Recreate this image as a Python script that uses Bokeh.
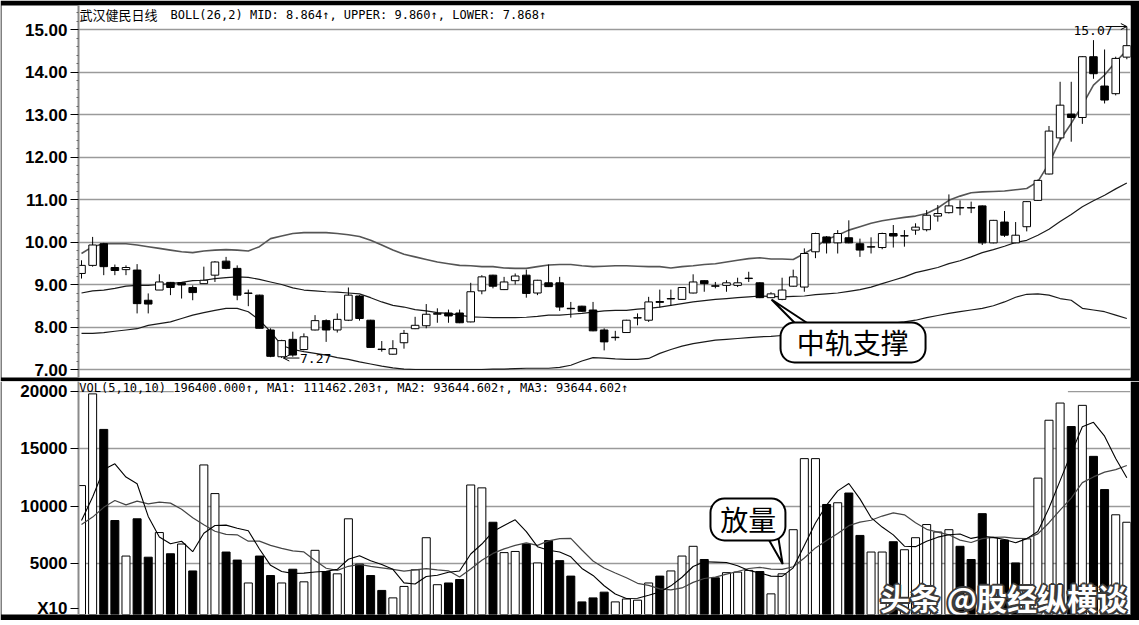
from bokeh.plotting import figure
from bokeh.layouts import column
from bokeh.models import (ColumnDataSource, Range1d, FixedTicker, PrintfTickFormatter,
                          Label, BoxAnnotation, Arrow, OpenHead)
from bokeh.embed import file_html
from bokeh.resources import INLINE

# ---- daily candles (武汉健民) ----
opens = [9.26, 9.45, 9.96, 9.40, 9.35, 9.34, 8.63, 8.87, 9.05, 9.04,
         8.93, 9.02, 9.22, 9.55, 9.38, 8.79, 8.75, 7.93, 7.30, 7.71,
         7.47, 7.93, 8.15, 7.93, 8.16, 8.73, 8.16, 7.48, 7.36, 7.63,
         7.96, 8.03, 8.30, 8.33, 8.33, 8.12, 8.85, 9.22, 8.88, 9.09,
         9.22, 8.80, 9.04, 9.04, 8.44, 8.49, 8.40, 7.93, 7.75, 7.87,
         8.21, 8.16, 8.60, 8.66, 8.65, 8.80, 9.09, 8.97, 8.98, 8.98,
         9.14, 9.04, 8.69, 8.65, 8.96, 8.94, 9.77, 10.12, 9.98, 10.10,
         9.96, 9.88, 9.87, 10.20, 10.14, 10.28, 10.29, 10.61, 10.69, 10.81,
         10.81, 10.85, 9.98, 10.47, 9.98, 10.36, 10.98, 11.60, 12.45, 13.01,
         12.93, 14.36, 13.67, 13.49, 14.35]
highs = [9.57, 10.12, 9.98, 9.47, 9.45, 9.48, 8.79, 9.24, 9.06, 9.05,
         8.98, 9.42, 9.55, 9.65, 9.45, 8.88, 8.76, 7.97, 7.70, 7.89,
         7.85, 8.28, 8.18, 8.32, 8.93, 8.75, 8.17, 7.67, 7.69, 7.93,
         8.24, 8.54, 8.44, 8.41, 8.41, 9.04, 9.22, 9.23, 9.18, 9.26,
         9.35, 9.11, 9.47, 9.18, 8.59, 8.50, 8.59, 7.97, 7.91, 8.17,
         8.32, 8.71, 8.88, 8.88, 8.94, 9.24, 9.10, 9.06, 9.10, 9.16,
         9.30, 9.05, 8.82, 9.16, 9.35, 9.85, 10.22, 10.14, 10.28, 10.51,
         10.08, 10.11, 10.22, 10.40, 10.28, 10.44, 10.75, 10.87, 11.12, 10.98,
         10.95, 10.86, 10.52, 10.73, 10.47, 10.96, 11.47, 12.73, 13.77, 13.77,
         14.37, 14.75, 14.53, 14.36, 15.07]
lows = [9.14, 9.42, 9.22, 9.22, 9.22, 8.32, 8.32, 8.87, 8.75, 8.67,
        8.63, 9.02, 9.06, 9.36, 8.63, 8.49, 7.97, 7.29, 7.27, 7.30,
        7.45, 7.92, 7.65, 7.87, 8.14, 8.15, 7.51, 7.42, 7.35, 7.49,
        7.95, 7.97, 8.10, 8.10, 8.09, 8.11, 8.77, 8.91, 8.87, 9.00,
        8.69, 8.75, 8.94, 8.38, 8.22, 8.36, 7.90, 7.45, 7.68, 7.86,
        8.04, 8.12, 8.46, 8.50, 8.64, 8.79, 8.83, 8.91, 8.83, 8.94,
        9.06, 8.68, 8.68, 8.63, 8.95, 8.83, 9.62, 9.73, 9.73, 9.97,
        9.65, 9.73, 9.83, 9.87, 9.89, 10.17, 10.25, 10.48, 10.67, 10.63,
        10.68, 9.93, 9.97, 10.12, 9.97, 10.25, 10.97, 11.59, 12.40, 12.36,
        12.78, 13.84, 13.26, 13.45, 14.30]
closes = [9.45, 9.93, 9.42, 9.33, 9.40, 8.55, 8.54, 9.06, 8.93, 8.99,
          8.81, 9.10, 9.53, 9.38, 8.75, 8.80, 7.97, 7.31, 7.68, 7.34,
          7.77, 8.15, 7.93, 8.18, 8.75, 8.20, 7.52, 7.47, 7.49, 7.85,
          8.04, 8.30, 8.32, 8.26, 8.10, 8.83, 9.18, 8.96, 9.06, 9.20,
          8.79, 9.10, 8.95, 8.47, 8.43, 8.37, 7.91, 7.65, 7.76, 8.16,
          8.22, 8.59, 8.58, 8.67, 8.93, 9.06, 9.02, 8.96, 9.04, 9.04,
          9.15, 8.69, 8.78, 8.87, 9.18, 9.73, 10.20, 9.98, 10.20, 9.98,
          9.81, 9.89, 10.20, 10.14, 10.15, 10.35, 10.63, 10.67, 10.85, 10.80,
          10.80, 9.98, 10.51, 10.16, 10.16, 10.95, 11.45, 12.61, 13.22, 12.93,
          14.36, 13.96, 13.34, 14.32, 14.62]

# ---- BOLL(26,2) ----
boll_upper = [9.73, 9.89, 9.96, 9.96, 9.96, 9.93, 9.89, 9.85, 9.81, 9.77,
              9.75, 9.79, 9.81, 9.82, 9.81, 9.79, 9.89, 10.08, 10.14, 10.20,
              10.22, 10.22, 10.22, 10.20, 10.17, 10.13, 10.04, 9.93, 9.81, 9.71,
              9.65, 9.59, 9.53, 9.49, 9.45, 9.44, 9.42, 9.42, 9.39, 9.38,
              9.38, 9.42, 9.46, 9.47, 9.47, 9.44, 9.42, 9.43, 9.44, 9.44,
              9.43, 9.42, 9.42, 9.39, 9.42, 9.44, 9.47, 9.49, 9.53, 9.57,
              9.61, 9.63, 9.60, 9.60, 9.59, 9.73, 9.88, 10.06, 10.16, 10.28,
              10.36, 10.44, 10.50, 10.54, 10.58, 10.61, 10.67, 10.80, 10.98, 11.08,
              11.16, 11.18, 11.19, 11.20, 11.23, 11.26, 11.42, 11.85, 12.40, 12.79,
              13.22, 13.69, 13.93, 14.24, 14.51]
boll_mid = [8.80, 8.85, 8.87, 8.91, 8.96, 8.98, 8.98, 9.00, 9.02, 9.05,
            9.09, 9.10, 9.14, 9.16, 9.18, 9.17, 9.12, 9.06, 9.00, 8.92,
            8.87, 8.85, 8.83, 8.82, 8.80, 8.78, 8.69, 8.59, 8.51, 8.47,
            8.41, 8.38, 8.34, 8.32, 8.28, 8.24, 8.23, 8.22, 8.22, 8.22,
            8.23, 8.25, 8.28, 8.28, 8.30, 8.32, 8.35, 8.38, 8.39, 8.39,
            8.42, 8.44, 8.47, 8.51, 8.55, 8.59, 8.62, 8.65, 8.67, 8.69,
            8.71, 8.73, 8.72, 8.71, 8.72, 8.73, 8.76, 8.78, 8.80, 8.84,
            8.88, 8.94, 9.02, 9.10, 9.18, 9.28, 9.34, 9.40, 9.49, 9.56,
            9.65, 9.75, 9.82, 9.90, 9.99, 10.04, 10.16, 10.30, 10.48, 10.65,
            10.83, 10.97, 11.10, 11.25, 11.39]
boll_lower = [7.85, 7.85, 7.87, 7.90, 7.93, 7.96, 8.04, 8.08, 8.12, 8.20,
              8.28, 8.34, 8.39, 8.44, 8.44, 8.36, 8.16, 7.89, 7.57, 7.47,
              7.42, 7.38, 7.34, 7.28, 7.24, 7.18, 7.13, 7.08, 7.04, 7.01,
              7.00, 7.00, 7.00, 7.00, 7.00, 7.00, 7.00, 7.01, 7.01, 7.02,
              7.03, 7.03, 7.03, 7.05, 7.10, 7.20, 7.28, 7.27, 7.25, 7.24,
              7.24, 7.26, 7.38, 7.47, 7.55, 7.61, 7.65, 7.69, 7.71, 7.73,
              7.75, 7.77, 7.78, 7.80, 7.82, 7.84, 7.85, 7.88, 7.92, 7.96,
              8.00, 8.03, 8.06, 8.09, 8.12, 8.16, 8.22, 8.27, 8.32, 8.36,
              8.40, 8.44, 8.50, 8.59, 8.70, 8.77, 8.78, 8.75, 8.67, 8.63,
              8.44, 8.40, 8.36, 8.28, 8.20]

# ---- volume (hands, x10) and its moving averages ----
volumes = [11800, 19800, 16700, 8750, 5650, 8900, 5550, 7700, 5850, 6700,
           4350, 13600, 11100, 6000, 5300, 3300, 5650, 3950, 3300, 4500,
           3400, 6150, 4300, 4100, 8900, 4950, 3950, 2650, 2000, 3000,
           4450, 7250, 3150, 3300, 3600, 11850, 11600, 8600, 5950, 6050,
           6700, 5050, 7000, 5250, 3900, 1650, 2000, 2500, 1650, 1900,
           1800, 3300, 3900, 4350, 5650, 6500, 5350, 3750, 4200, 4250,
           4400, 4300, 2350, 4100, 7950, 14150, 14150, 10150, 10300, 11150,
           7450, 6000, 6000, 6900, 6200, 7250, 8400, 7750, 7950, 6500,
           5350, 9350, 7250, 7050, 5050, 7150, 12450, 17500, 19000, 16950,
           18800, 14350, 11450, 9250, 8600]
# W = hollow (rising) bar, B = solid (falling) bar
vol_side = list("WWBBWBBWBW" "BWWBBWBBWB" "WWBWWBBBWW" "WWWBBWWBWW" "BWBBBBBBWW"
                "WWBWWWBBWW" "WBWWWWWBWB" "BWWBWWWWWB" "BBWBBWWWWB" "WBBWW")
vol_ma5 = [8750, 10800, 13200, 13700, 12540, 11960, 9110, 7310, 6730, 6940,
           6030, 7640, 8320, 8350, 8070, 7860, 6270, 4840, 4300, 4140,
           4160, 4260, 4330, 4490, 5370, 5680, 5240, 4910, 4490, 3310,
           3210, 3870, 3970, 4230, 4350, 5830, 6700, 7790, 8320, 8810,
           7780, 6470, 6150, 6010, 5580, 4570, 3960, 3060, 2340, 1940,
           1970, 2230, 2510, 3050, 3800, 4740, 5150, 5120, 5090, 4810,
           4390, 4180, 3900, 3880, 4620, 6570, 8540, 10100, 11340, 11980,
           10640, 9010, 8180, 7500, 6510, 6470, 6950, 7300, 7510, 7570,
           7190, 7380, 7280, 7100, 6810, 7170, 7790, 9840, 12230, 14610,
           16940, 17320, 16110, 14160, 12490]
vol_ma10 = [8400, 9050, 9900, 10500, 10120, 10440, 10210, 10360, 10270, 9740,
            8995, 8375, 7815, 7540, 7505, 6945, 6955, 6580, 6325, 6105,
            6010, 5265, 4585, 4395, 4755, 4920, 4750, 4620, 4490, 4340,
            4445, 4555, 4440, 4360, 3830, 4520, 5285, 5880, 6275, 6580,
            6805, 6585, 6970, 7165, 7195, 6175, 5215, 4605, 4175, 3760,
            3270, 3095, 2785, 2695, 2870, 3355, 3690, 3815, 4070, 4305,
            4565, 4665, 4510, 4485, 4715, 5480, 6360, 7000, 7610, 8300,
            8605, 8775, 9140, 9420, 9245, 8555, 7980, 7740, 7505, 7040,
            6830, 7165, 7290, 7305, 7190, 7180, 7585, 8560, 9665, 10710,
            12055, 12555, 12975, 13195, 13550]

price_ticks = [7, 8, 9, 10, 11, 12, 13, 14, 15]
price_minor = [7 + 0.2 * k for k in range(1, 43) if k % 5]
vol_ticks = [1100, 5000, 10000, 15000, 20000]
vol_tick_text = {1100: "X10"}
vol_grid = [5000, 10000, 15000]

day = list(range(1, len(opens) + 1))
X_RANGE = Range1d(0.73, 95.33)

candles = ColumnDataSource(dict(
    day=day, high=highs, low=lows,
    top=[max(o, c) for o, c in zip(opens, closes)],
    bottom=[min(o, c) for o, c in zip(opens, closes)],
    fill=["white" if c >= o else "black" for o, c in zip(opens, closes)],
))
bands = ColumnDataSource(dict(day=day, up=boll_upper, mid=boll_mid, low=boll_lower))
vols = ColumnDataSource(dict(
    day=day, vol=volumes, ma5=vol_ma5, ma10=vol_ma10,
    fill=["white" if s == "W" else "black" for s in vol_side],
))


def style_axis(ax, ticks, fmt, minor=None, standoff=10):
    ax.ticker = FixedTicker(ticks=ticks, minor_ticks=minor or [])
    ax.formatter = PrintfTickFormatter(format=fmt)
    ax.major_label_text_font = "Liberation Sans"
    ax.major_label_text_font_style = "bold"
    ax.major_label_text_font_size = "17px"
    ax.major_label_text_color = "black"
    ax.major_label_standoff = 3
    ax.major_tick_in = 0
    ax.major_tick_out = 8
    ax.major_tick_line_color = "black"
    ax.minor_tick_in = 0
    ax.minor_tick_out = 2
    ax.minor_tick_line_color = "#666666"
    ax.axis_line_color = "#8a8a8a"
    ax.axis_line_width = 2
    ax.axis_label = " "
    ax.axis_label_text_font_size = "10px"
    ax.axis_label_standoff = standoff
    ax.background_fill_color = "white"


# ---------------- price panel ----------------
p = figure(width=1139, height=381, x_range=X_RANGE, y_range=Range1d(6.812, 15.565),
           x_axis_type=None, output_backend="svg", toolbar_location=None,
           min_border_left=78, min_border_right=9, min_border_top=5, min_border_bottom=4,
           border_fill_color="black", background_fill_color="white", outline_line_color=None)
style_axis(p.yaxis[0], price_ticks, "%.2f", price_minor, standoff=6)
p.xgrid.visible = False
p.ygrid[0].ticker = FixedTicker(ticks=price_ticks)
p.ygrid.grid_line_color = "#9a9a9a"
p.ygrid.grid_line_width = 1.6

p.line("day", "up", source=bands, line_color="#555555", line_width=1.6)
p.line("day", "mid", source=bands, line_color="#1a1a1a", line_width=1.2)
p.line("day", "low", source=bands, line_color="#1a1a1a", line_width=1.2)

p.segment(x0="day", y0="low", x1="day", y1="high", source=candles, line_color="black", line_width=1)
p.vbar(x="day", width=0.68, top="top", bottom="bottom", source=candles,
       fill_color="fill", line_color="black", line_width=1)

p.add_layout(Label(x=0.82, y=15.35, text="武汉健民日线", text_font="Noto Sans CJK SC",
                   text_font_size="13px", text_baseline="middle", text_color="black"))
p.add_layout(Label(x=9.0, y=15.35, text="BOLL(26,2) MID: 8.864↑, UPPER: 9.860↑, LOWER: 7.868↑",
                   text_font="DejaVu Sans Mono", text_font_size="12px",
                   text_baseline="middle", text_color="black"))

# extreme markers
p.add_layout(Arrow(end=OpenHead(size=6, line_width=1, line_color="black"),
                   x_start=20.6, y_start=7.27, x_end=19.15, y_end=7.27,
                   line_color="black", line_width=1))
p.add_layout(Label(x=20.65, y=7.27, text="7.27", text_font="DejaVu Sans Mono",
                   text_font_size="13px", text_baseline="middle", text_color="black"))
p.add_layout(Arrow(end=OpenHead(size=6, line_width=1, line_color="black"),
                   x_start=93.45, y_start=15.07, x_end=95.0, y_end=15.07,
                   line_color="black", line_width=1))
p.add_layout(Label(x=90.2, y=14.98, text="15.07", text_font="DejaVu Sans Mono",
                   text_font_size="13px", text_baseline="middle", text_color="black"))

# callout: support on the middle band
p.patch([63.05, 65.5, 66.8], [8.647, 8.0, 8.0], fill_color="white",
        line_color="black", line_width=2)
p.add_layout(BoxAnnotation(left=63.86, right=76.9, bottom=7.165, top=8.106,
                           fill_color="white", fill_alpha=1, line_color="black",
                           line_alpha=1, line_width=2, border_radius=14))
p.add_layout(Label(x=70.35, y=7.64, text="中轨支撑", text_font="Noto Sans CJK SC",
                   text_font_size="28px", text_align="center", text_baseline="middle",
                   text_color="black"))

# ---------------- volume panel ----------------
v = figure(width=1139, height=239, x_range=X_RANGE, y_range=Range1d(550, 20881),
           x_axis_type=None, output_backend="svg", toolbar_location=None,
           min_border_left=78, min_border_right=9, min_border_top=0, min_border_bottom=6,
           border_fill_color="black", background_fill_color="white", outline_line_color=None)
style_axis(v.yaxis[0], vol_ticks, "%d", standoff=2)
v.yaxis[0].major_label_overrides = vol_tick_text
v.xgrid.visible = False
v.ygrid[0].ticker = FixedTicker(ticks=vol_grid)
v.ygrid.grid_line_color = "#9a9a9a"
v.ygrid.grid_line_width = 1.4
v.segment(x0=[0.73, 89.7], x1=[9.3, 95.33], y0=[20000, 20000], y1=[20000, 20000],
          line_color="#9a9a9a", line_width=1.4)

v.vbar(x="day", width=0.72, top="vol", bottom=0, source=vols,
       fill_color="fill", line_color="black", line_width=1)
v.line("day", "ma10", source=vols, line_color="#444444", line_width=1.2)
v.line("day", "ma5", source=vols, line_color="black", line_width=1.1)

v.add_layout(Label(x=0.8, y=20350,
                   text="VOL(5,10,10) 196400.000↑, MA1: 111462.203↑, MA2: 93644.602↑, MA3: 93644.602↑",
                   text_font="DejaVu Sans Mono", text_font_size="12px",
                   text_baseline="middle", text_color="black"))

# callout: volume expansion
v.patch([62.5, 63.6, 64.05], [7600, 7600, 4950], fill_color="white",
        line_color="black", line_width=2)
v.add_layout(BoxAnnotation(left=57.56, right=64.3, bottom=7007, top=10672,
                           fill_color="white", fill_alpha=1, line_color="black",
                           line_alpha=1, line_width=2, border_radius=14))
v.add_layout(Label(x=60.95, y=8840, text="放量", text_font="Noto Sans CJK SC",
                   text_font_size="28px", text_align="center", text_baseline="middle",
                   text_color="black"))

# watermark with a dark rim
mark = "头条 @股经纵横谈"
for dx, dy in [(-2, 0), (2, 0), (0, -2), (0, 2), (-1.5, -1.5), (1.5, 1.5), (-1.5, 1.5), (1.5, -1.5)]:
    v.add_layout(Label(x=72.8, y=2050, x_offset=dx, y_offset=dy, text=mark,
                       text_font="Noto Sans CJK SC", text_font_size="30px",
                       text_font_style="bold", text_baseline="middle", text_color="#3a3a3a"))
v.add_layout(Label(x=72.8, y=2050, text=mark, text_font="Noto Sans CJK SC",
                   text_font_size="30px", text_font_style="bold",
                   text_baseline="middle", text_color="white"))

layout = column(p, v, spacing=0)
open("out.html", "w").write(file_html(layout, INLINE))
